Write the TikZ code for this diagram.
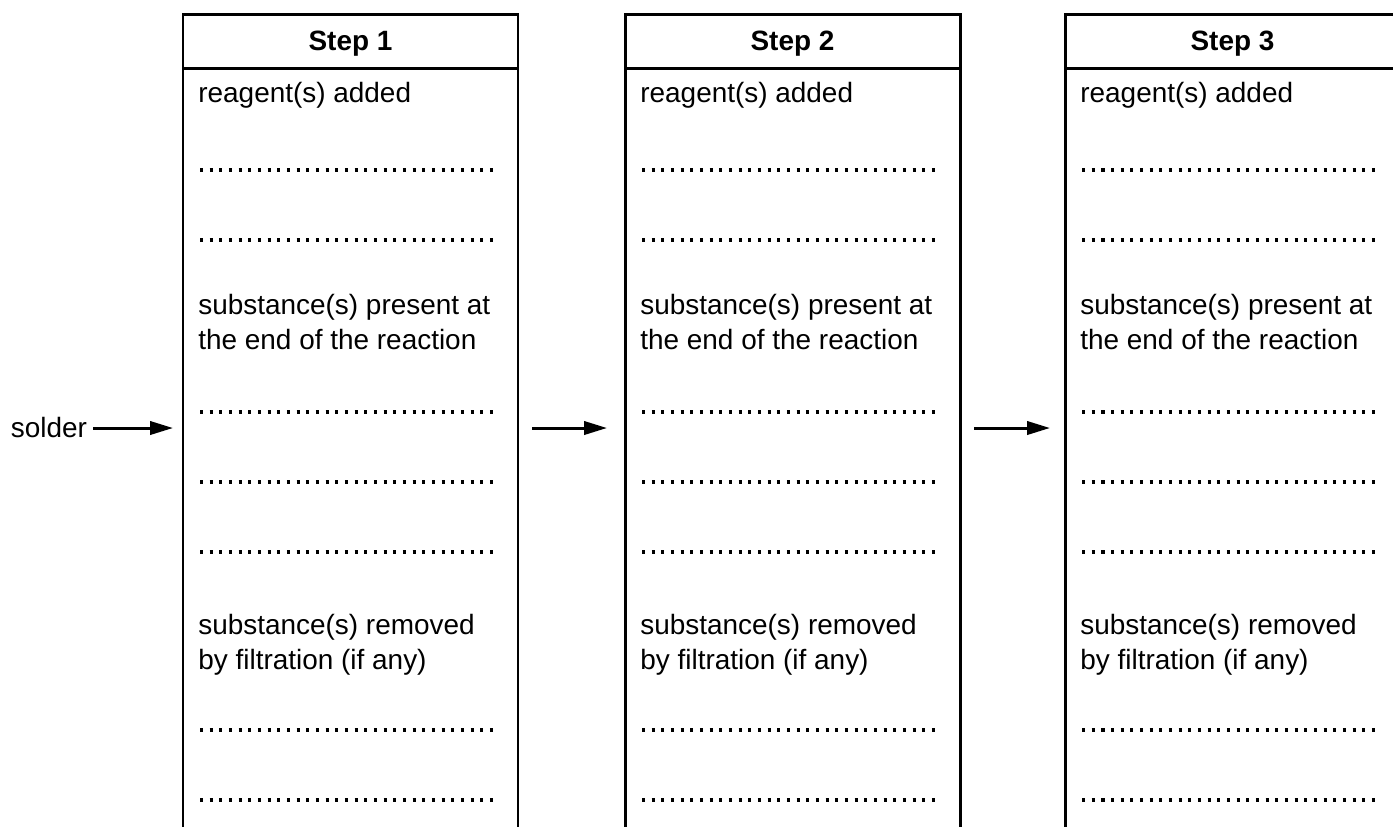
\documentclass[tikz,border=0pt]{standalone}
\usepackage{fontspec}
\setmainfont{Liberation Sans}
\usetikzlibrary{arrows.meta}
\tikzset{
	col/.style={line width=1.7pt},
	dots/.style={line width=1.8pt,dash pattern=on 1.8pt off 3.7pt},
	lbl/.style={anchor=base west,inner sep=0pt,align=left},
	flow/.style={-{Triangle[length=13pt,width=7.5pt]},line width=1.7pt},
}
\begin{document}
\begin{tikzpicture}[x=0.02cm,y=-0.02cm,font=\fontsize{15.9}{19.9}\selectfont]
			\def\w{335}
			\useasboundingbox (0,0) rectangle (1393,826);
			\clip (0,0) rectangle (1393,826);
			\foreach \i/\x in {1/183,2/625,3/1065}{
				\draw[col] (\x,830)--(\x,14)--(\x+\w,14)--(\x+\w,830);
				\draw[col] (\x,68)--(\x+\w,68);
				\node[anchor=base,inner sep=0pt] (step\i) at (\x+\w/2,50) {\bfseries Step \i};
				\node[lbl] (added\i) at (\x+15,102) {reagent(s) added};
				% base of a two-line label is its last line
				\node[lbl] (present\i) at (\x+15,349) {substance(s) present at\\the end of the reaction};
				\node[lbl] (removed\i) at (\x+15,669) {substance(s) removed\\by filtration (if any)};
				\foreach \y in {170,240,412,482,552,730,800}
					\draw[dots] (\x+17,\y)--(\x+314,\y);
			}
			\node (solder) at (49,428) {solder};
			\coordinate (in1) at (173,428);
			\coordinate (out1) at (532,428);
			\coordinate (in2) at (607,428);
			\coordinate (out2) at (974,428);
			\coordinate (in3) at (1050,428);
			\draw[flow] (solder)--(in1);
			\draw[flow] (out1)--(in2);
			\draw[flow] (out2)--(in3);
	\end{tikzpicture}
\end{document}
